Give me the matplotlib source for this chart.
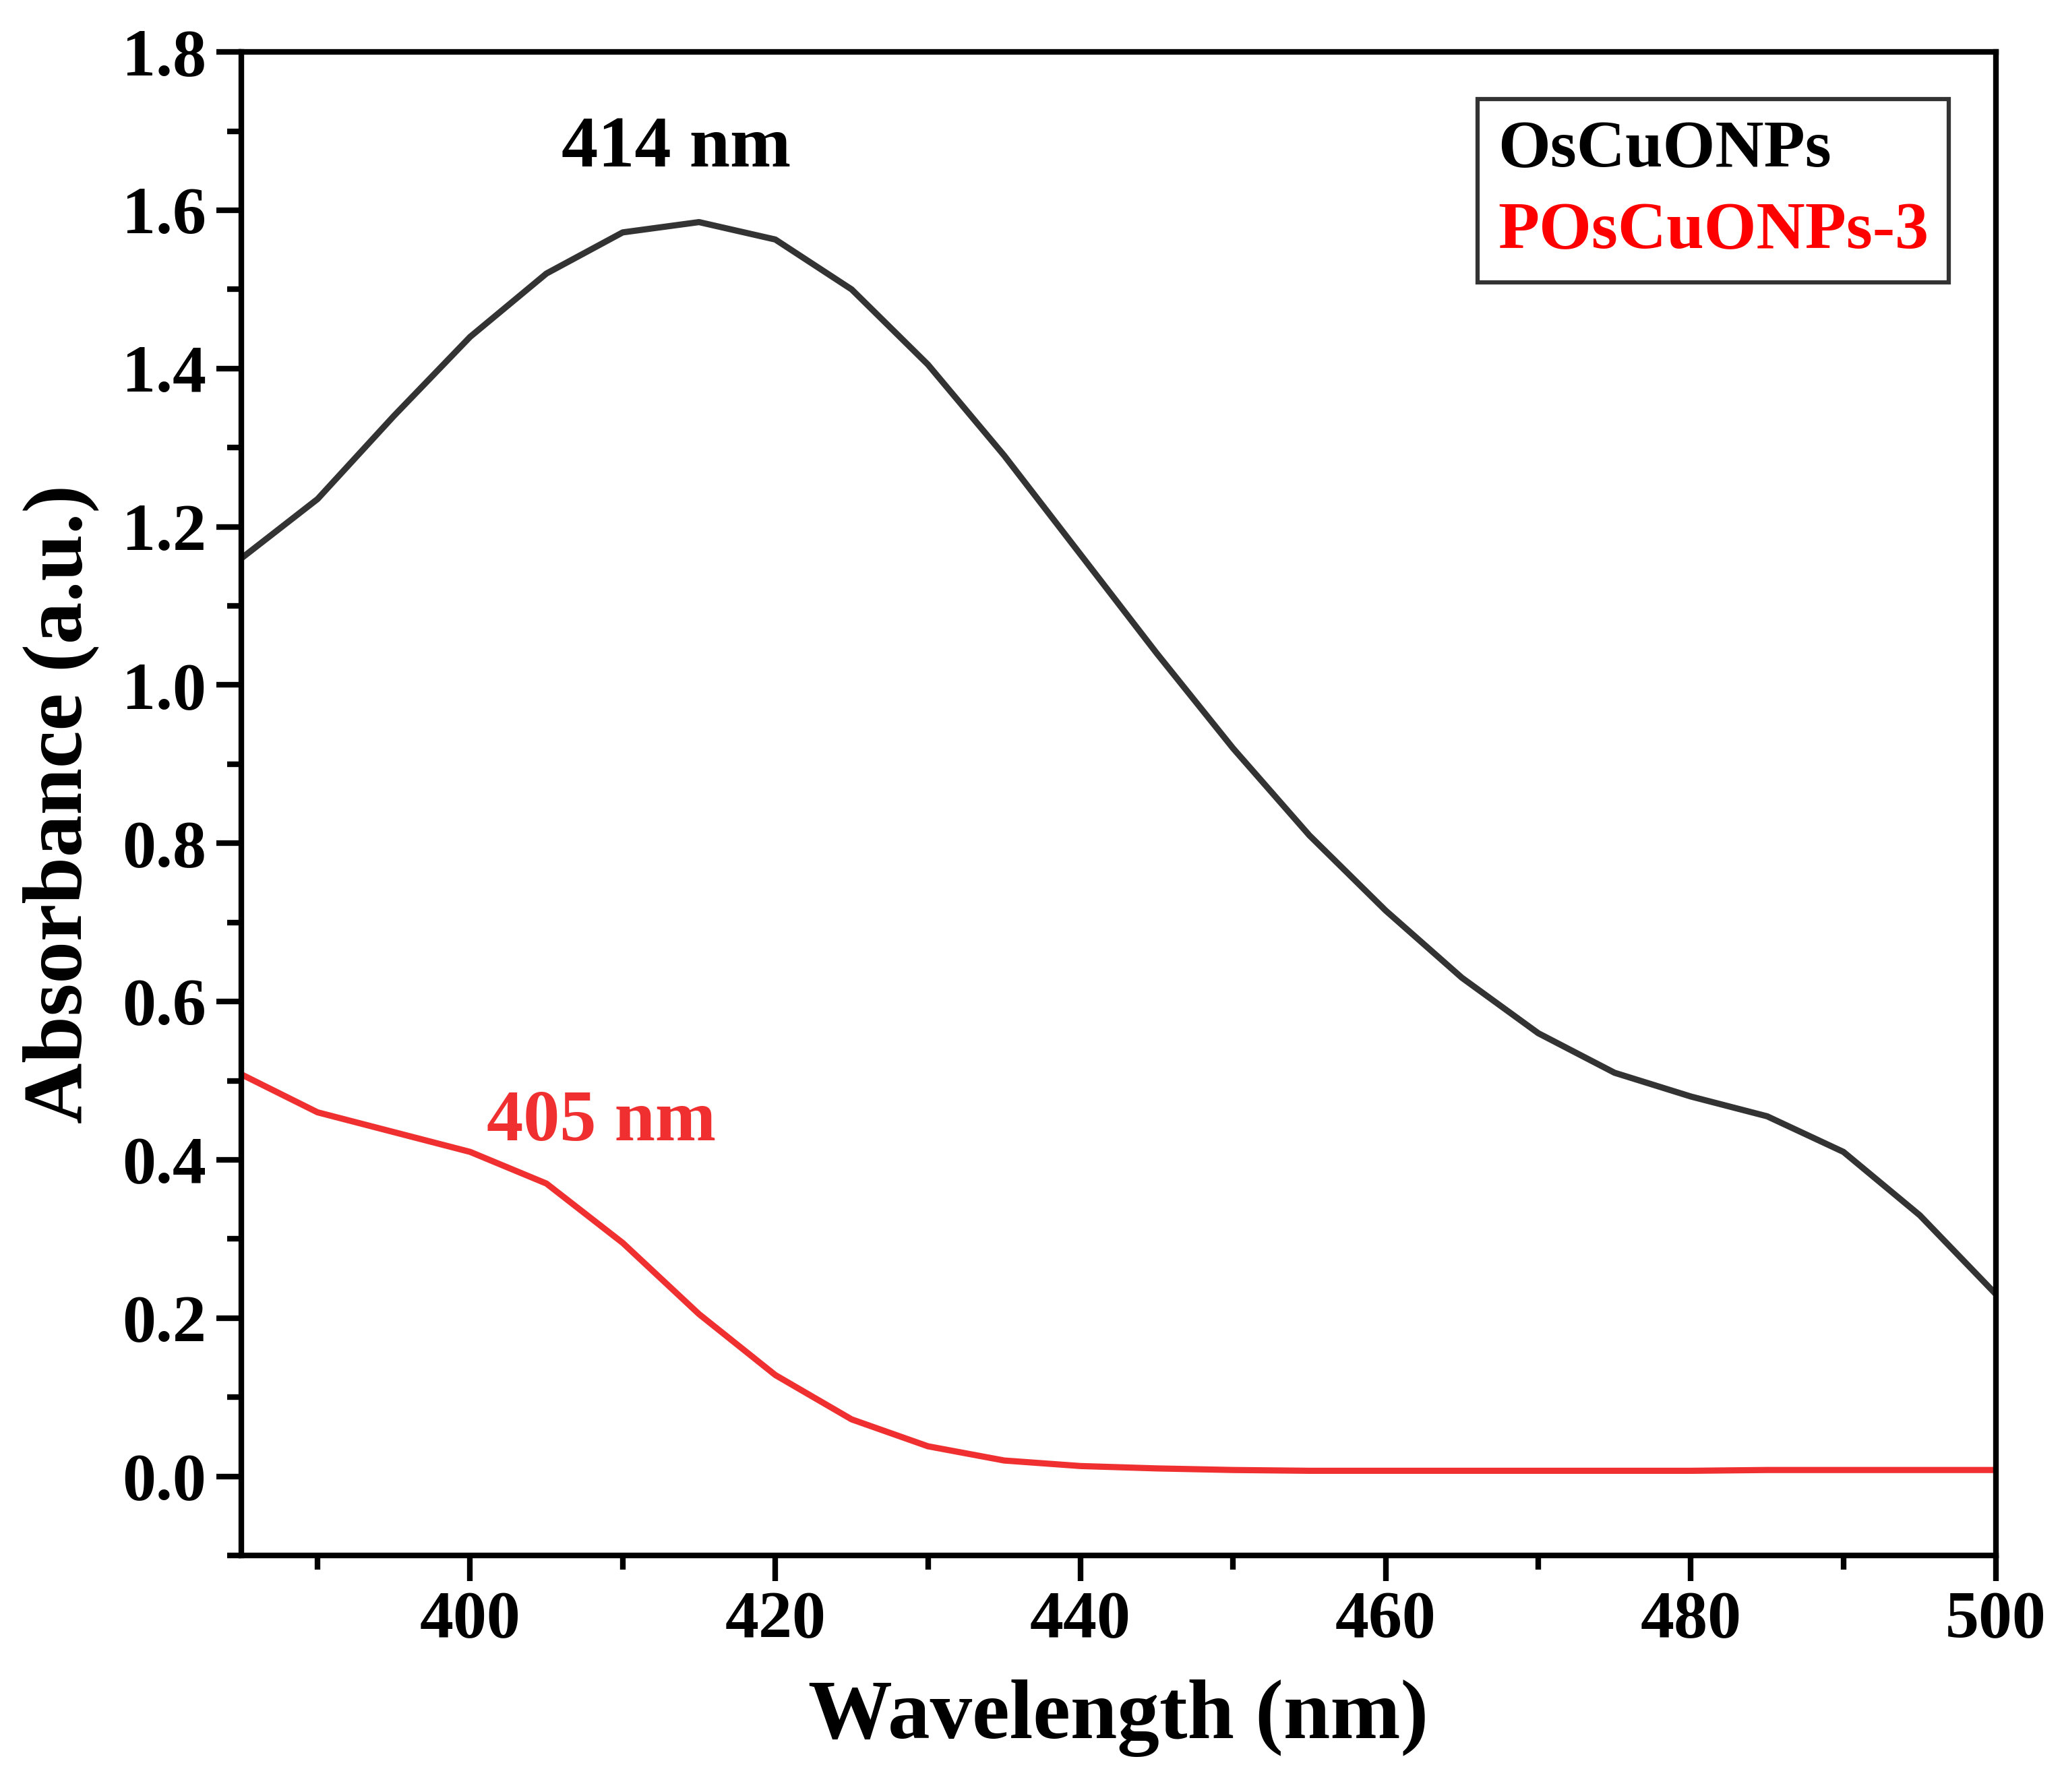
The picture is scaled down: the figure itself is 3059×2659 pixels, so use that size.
import numpy as np
import matplotlib.pyplot as plt
from matplotlib.ticker import MultipleLocator

plt.rcParams['font.family'] = ['Liberation Serif', 'DejaVu Serif']
plt.rcParams['font.weight'] = 'bold'

wavelength = np.arange(385, 501, 5)
oscuo = [1.16, 1.235, 1.34, 1.44, 1.52, 1.572, 1.585, 1.563, 1.50, 1.405, 1.29, 1.165,
         1.04, 0.92, 0.81, 0.715, 0.63, 0.56, 0.51, 0.48, 0.455, 0.41, 0.33, 0.23]
poscuo = [0.508, 0.46, 0.435, 0.41, 0.37, 0.295, 0.205, 0.128, 0.072, 0.038, 0.02, 0.013,
          0.01, 0.008, 0.007, 0.007, 0.007, 0.007, 0.007, 0.007, 0.008, 0.008, 0.008, 0.008]

fig = plt.figure(figsize=(3059/300, 2659/300), dpi=300)
ax = fig.add_axes([0.117, 0.132, 0.851, 0.839])
ax.plot(wavelength, oscuo, color='#333333', lw=2.2)
ax.plot(wavelength, poscuo, color='#f03030', lw=2.2)

ax.set_xlim(385, 500)
ax.set_ylim(-0.1, 1.8)
ax.xaxis.set_major_locator(MultipleLocator(20))
ax.xaxis.set_minor_locator(MultipleLocator(10))
ax.yaxis.set_minor_locator(MultipleLocator(0.1))
ax.set_yticks(np.arange(0, 1.81, 0.2))
ax.set_yticklabels([f'{v:.1f}' for v in np.arange(0, 1.81, 0.2)])
ax.tick_params(which='major', direction='out', length=9, width=2, labelsize=24)
ax.tick_params(which='minor', direction='out', length=5, width=2)
for s in ax.spines.values():
    s.set_linewidth(2)

ax.set_xlabel('Wavelength (nm)', fontsize=30, fontweight='bold', labelpad=10)
ax.set_ylabel('Absorbance (a.u.)', fontsize=30, fontweight='bold', labelpad=8)

ax.text(413.5, 1.655, '414 nm', fontsize=26, fontweight='bold', ha='center')
ax.text(408.6, 0.425, '405 nm', fontsize=26, fontweight='bold', ha='center', color='#f03030')

leg = ax.legend(['OsCuONPs', 'POsCuONPs-3'], loc='upper right', handlelength=0, handletextpad=0,
                fontsize=24, fancybox=False, edgecolor='black', borderaxespad=0.7,
                borderpad=0.3, labelspacing=0.3)
leg.get_frame().set_linewidth(1.5)
for t, c in zip(leg.get_texts(), ['black', 'red']):
    t.set_color(c)
    t.set_fontweight('bold')
for h in leg.legend_handles:
    h.set_visible(False)

fig.savefig('out.png', dpi=300)
